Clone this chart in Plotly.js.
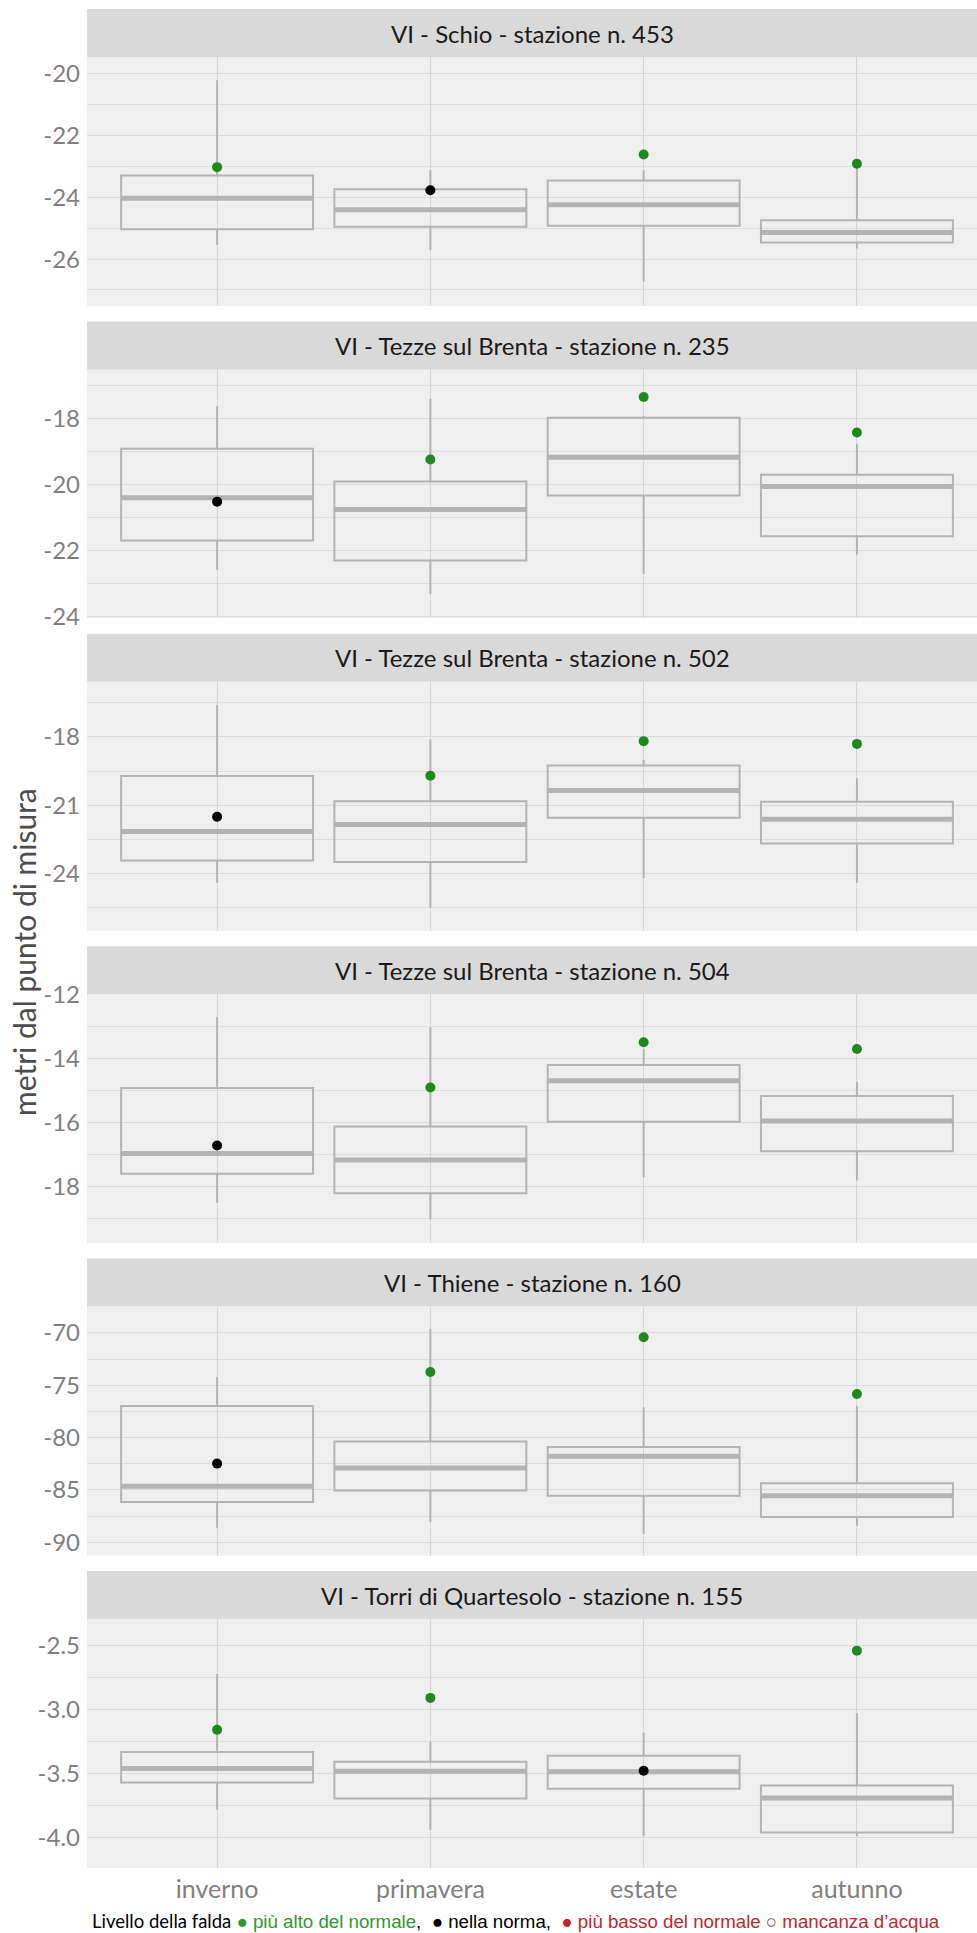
<!DOCTYPE html>
<html>
<head>
<meta charset="utf-8">
<script src="https://cdn.plot.ly/plotly-3.0.1.min.js"></script>
<style>
html,body{margin:0;padding:0;background:#fff;}
#chart{width:977px;height:1933px;}
</style>
</head>
<body>
<div id="chart"></div>
<script>
// ---------- DATA ----------
const categories = ['inverno', 'primavera', 'estate', 'autunno'];

const stations = [
  'VI - Schio - stazione n. 453',
  'VI - Tezze sul Brenta - stazione n. 235',
  'VI - Tezze sul Brenta - stazione n. 502',
  'VI - Tezze sul Brenta - stazione n. 504',
  'VI - Thiene - stazione n. 160',
  'VI - Torri di Quartesolo - stazione n. 155'
];

// upper whisker end
const whiskerHigh = [
  [-20.20, -23.12, -23.12, -23.04],
  [-17.62, -17.39, -17.92, -18.76],
  [-16.61, -18.12, -19.02, -19.82],
  [-12.70, -13.02, -13.70, -14.72],
  [-74.20, -69.59, -77.10, -76.97],
  [-2.724, -3.251, -3.184, -3.030]
];
// third quartile (box top)
const q3 = [
  [-23.29, -23.74, -23.45, -24.74],
  [-18.91, -19.91, -17.97, -19.70],
  [-19.72, -20.82, -19.26, -20.85],
  [-14.92, -16.12, -14.20, -15.17],
  [-76.97, -80.38, -80.89, -84.36],
  [-3.334, -3.410, -3.363, -3.594]
];
// median
const medians = [
  [-24.03, -24.40, -24.24, -25.14],
  [-20.40, -20.76, -19.17, -20.06],
  [-22.15, -21.84, -20.35, -21.61],
  [-16.96, -17.16, -14.69, -15.95],
  [-84.65, -82.90, -81.78, -85.54],
  [-3.462, -3.483, -3.488, -3.693]
];
// first quartile (box bottom)
const q1 = [
  [-25.03, -24.95, -24.92, -25.46],
  [-21.70, -22.31, -20.33, -21.57],
  [-23.42, -23.49, -21.55, -22.67],
  [-17.59, -18.20, -15.97, -16.89],
  [-86.15, -85.06, -85.54, -87.58],
  [-3.571, -3.696, -3.620, -3.961]
];
// lower whisker end
const whiskerLow = [
  [-25.54, -25.70, -26.73, -25.66],
  [-22.59, -23.32, -22.72, -22.13],
  [-24.39, -25.49, -24.20, -24.39],
  [-18.50, -19.01, -17.70, -17.80],
  [-88.60, -88.03, -89.20, -88.44],
  [-3.782, -3.940, -3.992, -3.992]
];
// current level (point)
const current = [
  [-23.02, -23.77, -22.61, -22.91],
  [-20.52, -19.24, -17.34, -18.42],
  [-21.50, -19.71, -18.19, -18.31],
  [-16.71, -14.90, -13.49, -13.70],
  [-82.48, -73.73, -70.41, -75.83],
  [-3.160, -2.911, -3.480, -2.542]
];
// status of current level
const status = [
  ['alto', 'norma', 'alto', 'alto'],
  ['norma', 'alto', 'alto', 'alto'],
  ['norma', 'alto', 'alto', 'alto'],
  ['norma', 'alto', 'alto', 'alto'],
  ['norma', 'alto', 'alto', 'alto'],
  ['alto', 'alto', 'norma', 'alto']
];

// y tick labels per panel
const yTickLabels = [
  ['-26', '-24', '-22', '-20'],
  ['-24', '-22', '-20', '-18'],
  ['-24', '-21', '-18'],
  ['-18', '-16', '-14', '-12'],
  ['-90', '-85', '-80', '-75', '-70'],
  ['-4.0', '-3.5', '-3.0', '-2.5']
];

const legendTitle = 'Livello della falda';
const legendItems = ['più alto del normale', 'nella norma', 'più basso del normale', 'mancanza d\u2019acqua'];

// ---------- LAYOUT / STYLE ----------
const yRanges = [
  [-27.52, -19.45],
  [-24.07, -16.50],
  [-26.50, -15.59],
  [-19.76, -11.99],
  [-91.27, -67.48],
  [-4.239, -2.295]
];
const yMinor = [1, 1, 1.5, 1, 2.5, 0.25];

const statusColor = { alto: '#1e8a1e', norma: '#000000', basso: '#b22222' };

const W = 977, H = 1933;
const mL = 87, mR = 0, mT = 9, mB = 65;
const plotH = H - mT - mB;          // 1859
const pitch = 312.4, stripH = 48, panelH = 249;
const BOX = '#b3b3b3';
const FONT = 'Lato, "Open Sans", sans-serif';
const SANS = "'Liberation Sans', Arial, sans-serif";

const traces = [];
const layout = {
  width: W, height: H,
  margin: { l: mL, r: mR, t: mT, b: mB, pad: 0 },
  paper_bgcolor: '#ffffff',
  plot_bgcolor: '#efefef',
  showlegend: false,
  font: { family: FONT, color: '#7f7f7f', size: 20 },
  shapes: [],
  annotations: []
};

for (let p = 0; p < 6; p++) {
  const k = p === 0 ? '' : String(p + 1);
  const stripTop = mT + p * pitch;
  const plotTop = stripTop + stripH;
  const plotBot = plotTop + panelH;
  const d0 = (H - mB - plotBot) / plotH;
  const d1 = (H - mB - plotTop) / plotH;
  const s1 = (H - mB - stripTop) / plotH;

  layout['xaxis' + k] = {
    domain: [0, 1],
    anchor: 'y' + k,
    range: [-0.61, 3.563],
    tickmode: 'array',
    tickvals: categories.map((c, i) => i),
    ticktext: categories,
    showticklabels: p === 5,
    ticks: '',
    ticklabelstandoff: 4,
    tickfont: { family: FONT, size: 25, color: '#7f7f7f' },
    showgrid: true,
    gridcolor: '#d6d6d6',
    gridwidth: 1,
    zeroline: false,
    showline: false,
    fixedrange: true
  };
  const tv = yTickLabels[p].map(Number);
  layout['yaxis' + k] = {
    domain: [d0, d1],
    anchor: 'x' + k,
    range: yRanges[p],
    tickmode: 'array',
    tickvals: tv,
    ticktext: yTickLabels[p],
    ticks: '',
    ticklabelstandoff: 6,
    tickfont: { family: FONT, size: 24, color: '#7f7f7f' },
    showgrid: true,
    gridcolor: '#dadada',
    gridwidth: 1,
    minor: { dtick: yMinor[p], tick0: 0, showgrid: true, gridcolor: '#dedede', gridwidth: 1, ticks: '' },
    zeroline: false,
    showline: false,
    fixedrange: true
  };

  // strip
  layout.shapes.push({
    type: 'rect', xref: 'paper', yref: 'paper',
    x0: 0, x1: 1, y0: d1, y1: s1,
    fillcolor: '#d9d9d9', line: { width: 0 }, layer: 'below'
  });
  layout.annotations.push({
    xref: 'paper', yref: 'paper', x: 0.5, y: (d1 + s1) / 2,
    xanchor: 'center', yanchor: 'middle', showarrow: false,
    text: stations[p],
    font: { family: FONT, size: 24, color: '#1a1a1a' }
  });

  const xs = categories.map((c, i) => i);

  // box plot
  traces.push({
    type: 'box',
    xaxis: 'x' + k, yaxis: 'y' + k,
    x: xs,
    q1: q1[p], median: medians[p], q3: q3[p],
    lowerfence: whiskerLow[p], upperfence: whiskerHigh[p],
    width: 0.9,
    whiskerwidth: 0,
    boxpoints: false,
    fillcolor: 'rgba(0,0,0,0)',
    line: { color: BOX, width: 2 },
    hoverinfo: 'skip'
  });

  // thick median bars
  const mx = [], my = [];
  xs.forEach((x, i) => {
    mx.push(x - 0.45, x + 0.45, null);
    my.push(medians[p][i], medians[p][i], null);
  });
  traces.push({
    type: 'scatter', mode: 'lines',
    xaxis: 'x' + k, yaxis: 'y' + k,
    x: mx, y: my,
    line: { color: BOX, width: 5 },
    hoverinfo: 'skip'
  });

  // current level points
  traces.push({
    type: 'scatter', mode: 'markers',
    xaxis: 'x' + k, yaxis: 'y' + k,
    x: xs, y: current[p],
    marker: { size: 10, color: status[p].map(s => statusColor[s]), line: { width: 0 } },
    hoverinfo: 'skip'
  });
}

// y axis title
layout.annotations.push({
  xref: 'paper', yref: 'paper',
  x: (24 - mL) / (W - mL - mR), y: (H - mB - 952) / plotH,
  xanchor: 'center', yanchor: 'middle', showarrow: false,
  textangle: -90,
  text: 'metri dal punto di misura',
  font: { family: FONT, size: 30, color: '#4d4d4d' }
});

// bottom legend text
const legendText =
  '<span style="color:#000000;font-family:Lato;font-size:18.5px">' + legendTitle + '</span> ' +
  '<span style="color:#2e9a2e">\u25CF ' + legendItems[0] + '</span>' +
  '<span style="color:#000000">,  \u25CF ' + legendItems[1] + ',  </span>' +
  '<span style="color:#c0272d">\u25CF ' + legendItems[2] + ' \u25CB ' + legendItems[3] + '</span>';
layout.annotations.push({
  xref: 'paper', yref: 'paper',
  x: (90 - mL) / (W - mL - mR), y: (H - mB - 1921) / plotH,
  xanchor: 'left', yanchor: 'middle', showarrow: false,
  text: legendText,
  font: { family: SANS, size: 18.7, color: '#000000' }
});

Plotly.newPlot('chart', traces, layout, { displayModeBar: false, staticPlot: true });
</script>
</body>
</html>
